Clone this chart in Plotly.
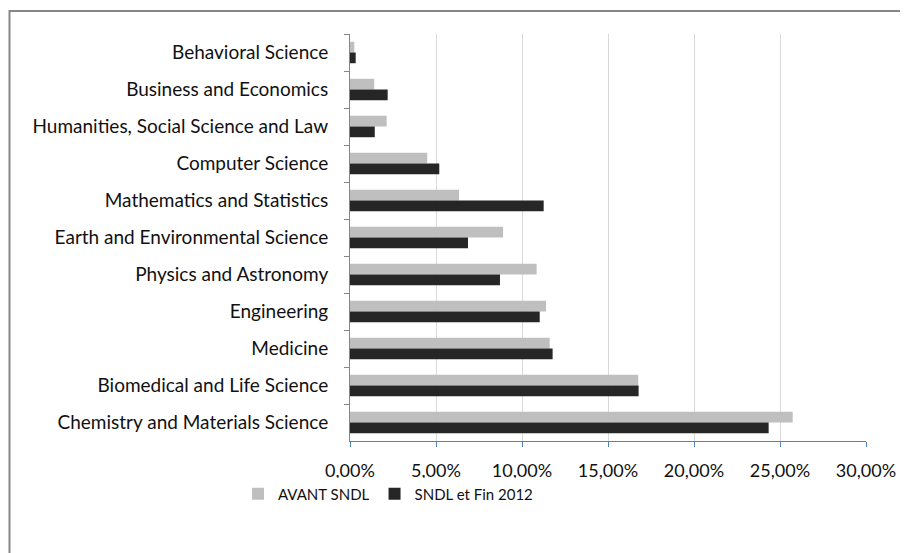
import plotly.graph_objects as go

categories = [
    "Behavioral Science",
    "Business and Economics",
    "Humanities, Social Science and Law",
    "Computer Science",
    "Mathematics and Statistics",
    "Earth and Environmental Science",
    "Physics and Astronomy",
    "Engineering",
    "Medicine",
    "Biomedical and Life Science",
    "Chemistry and Materials Science",
]
avant_sndl = [0.0025, 0.0141, 0.0213, 0.0449, 0.0634, 0.0890, 0.1085, 0.1140, 0.1161, 0.1676, 0.2574]
sndl_fin_2012 = [0.0033, 0.0219, 0.0144, 0.0519, 0.1126, 0.0686, 0.0872, 0.1103, 0.1178, 0.1678, 0.2434]
tick_vals = [0, 0.05, 0.10, 0.15, 0.20, 0.25, 0.30]

# page has an 8px body margin; figure coordinates are offset by it
OFF = 8
W, H = 908 - OFF, 553 - OFF
L, T = 350 - OFF, 34 - OFF
R = W - (866 - OFF)
B = H - (441 - OFF)
pw, ph = W - L - R, H - T - B

fig = go.Figure()
fig.add_trace(go.Bar(y=categories, x=avant_sndl, orientation="h", name="AVANT SNDL",
                     marker=dict(color="#bfbfbf", line=dict(width=0))))
fig.add_trace(go.Bar(y=categories, x=sndl_fin_2012, orientation="h", name="SNDL et Fin 2012",
                     marker=dict(color="#262626", line=dict(width=0))))

font = "Lato, Carlito, Calibri, sans-serif"
fig.update_layout(
    width=W, height=H,
    margin=dict(l=L, r=R, t=T, b=B),
    barmode="group", bargap=0.42, bargroupgap=0,
    separators=", ",
    paper_bgcolor="white", plot_bgcolor="white",
    font=dict(family=font, size=19, color="#111111"),
    showlegend=True,
    legend=dict(orientation="h", x=(388 - 350) / pw, xanchor="center",
                y=(441 - 494) / ph, yanchor="middle",
                font=dict(size=15), itemwidth=30, traceorder="normal"),
    xaxis=dict(range=[0, 0.30], tickvals=tick_vals, tickformat=".2%",
               showgrid=True, gridcolor="#d9d9d9", gridwidth=1, zeroline=False,
               showline=True, linecolor="#4f81bd", linewidth=1,
               ticks="outside", ticklen=5, tickcolor="#4f81bd",
               tickfont=dict(size=18), ticklabelstandoff=8),
    yaxis=dict(autorange="reversed", categoryorder="array", categoryarray=categories,
               showline=True, linecolor="#868686", linewidth=1,
               ticks="outside", tickson="boundaries", ticklen=5, tickcolor="#868686",
               showgrid=False, ticklabelstandoff=17, tickfont=dict(size=19)),
)

# outer chart border
fig.add_shape(type="rect", xref="paper", yref="paper",
              x0=(9.5 - 350) / pw, x1=(W + 30 - L) / pw,
              y0=-(H + 30 - T - ph) / ph, y1=(441 - 11) / ph,
              line=dict(color="#868686", width=2), fillcolor="rgba(0,0,0,0)", layer="below")

fig.write_html("out.html")
